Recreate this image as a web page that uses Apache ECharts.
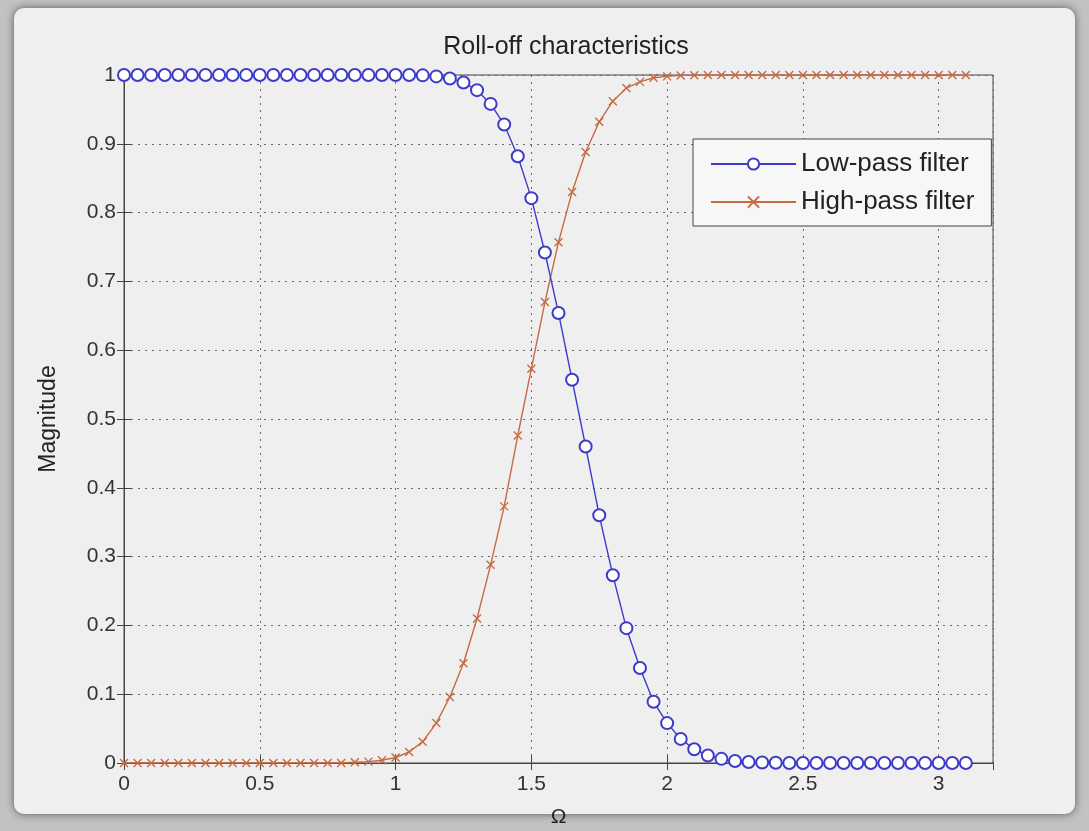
<!DOCTYPE html>
<html>
<head>
<meta charset="utf-8">
<script src="https://cdn.jsdelivr.net/npm/echarts@6/dist/echarts.min.js"></script>
<style>
  html, body { margin: 0; padding: 0; }
  body { width: 1089px; height: 831px; background: #c2c2c2; position: relative; overflow: hidden; }
  #frame { position: absolute; left: 14px; top: 8px; width: 1061px; height: 806px;
           background: #efefef; border-radius: 10px; box-shadow: 0 0 8px rgba(0,0,0,0.55); }
  #chart { position: absolute; left: 0; top: 0; width: 1089px; height: 831px; }
</style>
</head>
<body>
<div id="frame"></div>
<div id="chart"></div>
<script>
// normalized frequency, 0:0.05:pi
const omega = [
  0, 0.05, 0.1, 0.15, 0.2, 0.25, 0.3, 0.35, 0.4, 0.45, 0.5, 0.55, 0.6, 0.65, 0.7, 0.75,
  0.8, 0.85, 0.9, 0.95, 1.0, 1.05, 1.1, 1.15, 1.2, 1.25, 1.3, 1.35, 1.4, 1.45, 1.5, 1.55,
  1.6, 1.65, 1.7, 1.75, 1.8, 1.85, 1.9, 1.95, 2.0, 2.05, 2.1, 2.15, 2.2, 2.25, 2.3, 2.35,
  2.4, 2.45, 2.5, 2.55, 2.6, 2.65, 2.7, 2.75, 2.8, 2.85, 2.9, 2.95, 3.0, 3.05, 3.1
];

// magnitudes
const lowPass = [
  1, 1, 1, 1, 1, 1, 1, 1, 1, 1, 1, 1, 1, 1, 1, 1,
  1, 1, 1, 1, 1, 0.9999, 0.9995, 0.998, 0.995, 0.989, 0.978, 0.958, 0.928, 0.882, 0.821, 0.742,
  0.654, 0.557, 0.460, 0.360, 0.273, 0.196, 0.138, 0.089, 0.058, 0.035, 0.020, 0.011, 0.006, 0.003, 0.0015, 0.0007,
  0.0003, 0, 0, 0, 0, 0, 0, 0, 0, 0, 0, 0, 0, 0, 0
];

const highPass = [
  0, 0, 0, 0, 0, 0, 0, 0, 0, 0, 0, 0, 0, 0, 0, 0,
  0, 0.001, 0.002, 0.004, 0.008, 0.016, 0.031, 0.058, 0.096, 0.145, 0.210, 0.288, 0.373, 0.476, 0.573, 0.670,
  0.757, 0.830, 0.888, 0.932, 0.962, 0.981, 0.990, 0.996, 0.998, 0.9994, 0.9998, 1, 1, 1, 1, 1,
  1, 1, 1, 1, 1, 1, 1, 1, 1, 1, 1, 1, 1, 1, 1
];

const xTicks = [0, 0.5, 1, 1.5, 2, 2.5, 3];
const yTicks = [0, 0.1, 0.2, 0.3, 0.4, 0.5, 0.6, 0.7, 0.8, 0.9, 1];

const blue = "#3c3cc8";
const brown = "#c66a44";
const font = "Liberation Sans, Arial, sans-serif";

let chart = echarts.init(document.getElementById("chart"));

const xLabel = (v) => (xTicks.indexOf(Math.round(v * 10) / 10) >= 0 ? String(Math.round(v * 10) / 10) : "");
const yLabel = (v) => (yTicks.indexOf(Math.round(v * 10) / 10) >= 0 ? String(Math.round(v * 10) / 10) : "");

const dotted = { show: true, lineStyle: { color: "#6a6a6a", type: [2, 5], width: 1 } };

let option = {
  animation: false,
  title: {
    text: "Roll-off characteristics",
    left: 561,
    top: 30,
    textAlign: "center",
    textStyle: { fontFamily: font, fontSize: 25, fontWeight: "normal", color: "#222" },
  },
  legend: {
    orient: "vertical",
    left: 693,
    top: 139,
    padding: [12, 17, 11, 17],
    itemGap: 12,
    itemWidth: 85,
    itemHeight: 14,
    backgroundColor: "#f7f7f7",
    borderColor: "#444",
    borderWidth: 1,
    borderRadius: 0,
    textStyle: { fontFamily: font, fontSize: 26, color: "#222" },
    data: ["Low-pass filter", "High-pass filter"],
  },
  grid: {
    left: 124,
    right: 96,
    top: 75,
    bottom: 68,
    outerBoundsMode: "none",
    show: true,
    borderColor: "#444",
    borderWidth: 1,
    backgroundColor: "transparent",
  },
  xAxis: [
    {
      type: "value",
      min: 0,
      max: 3.2,
      interval: 0.5,
      name: "Ω",
      nameLocation: "middle",
      nameGap: 44,
      nameTextStyle: { fontFamily: font, fontSize: 21, color: "#222" },
      axisLine: { show: true, onZero: false, lineStyle: { color: "#444" } },
      axisTick: { show: true, inside: true, length: 7, lineStyle: { color: "#444" } },
      axisLabel: { formatter: xLabel, margin: 11, fontFamily: font, fontSize: 21, color: "#333", showMaxLabel: false },
      splitLine: dotted,
    },
    {
      type: "value",
      position: "top",
      min: 0,
      max: 3.2,
      interval: 0.5,
      axisLine: { show: true, lineStyle: { color: "#444" } },
      axisTick: { show: true, inside: true, length: 7, lineStyle: { color: "#444" } },
      axisLabel: { show: false },
      splitLine: { show: false },
    },
  ],
  yAxis: [
    {
      type: "value",
      min: 0,
      max: 1,
      interval: 0.1,
      name: "Magnitude",
      nameLocation: "middle",
      nameGap: 64,
      nameTextStyle: { fontFamily: font, fontSize: 23, color: "#222" },
      axisLine: { show: true, lineStyle: { color: "#444" } },
      axisTick: { show: true, inside: true, length: 7, lineStyle: { color: "#444" } },
      axisLabel: { formatter: yLabel, margin: 8, fontFamily: font, fontSize: 21, color: "#333" },
      splitLine: dotted,
    },
    {
      type: "value",
      position: "right",
      min: 0,
      max: 1,
      interval: 0.1,
      axisLine: { show: true, lineStyle: { color: "#444" } },
      axisTick: { show: true, inside: true, length: 7, lineStyle: { color: "#444" } },
      axisLabel: { show: false },
      splitLine: { show: false },
    },
  ],
  series: [
    {
      name: "Low-pass filter",
      type: "line",
      data: omega.map((w, i) => [w, lowPass[i]]),
      symbol: "emptyCircle",
      symbolSize: 12,
      showAllSymbol: true,
      lineStyle: { color: blue, width: 1.4 },
      itemStyle: { color: blue, borderColor: blue, borderWidth: 1.4 },
      z: 3,
    },
    {
      name: "High-pass filter",
      type: "line",
      data: omega.map((w, i) => [w, highPass[i]]),
      symbol: "path://M0,0L10,10M10,0L0,10",
      symbolSize: 8,
      showAllSymbol: true,
      lineStyle: { color: brown, width: 1.4 },
      itemStyle: { color: brown, borderColor: brown, borderWidth: 1.4 },
      z: 2,
    },
  ],
};

chart.setOption(option);
</script>
</body>
</html>
